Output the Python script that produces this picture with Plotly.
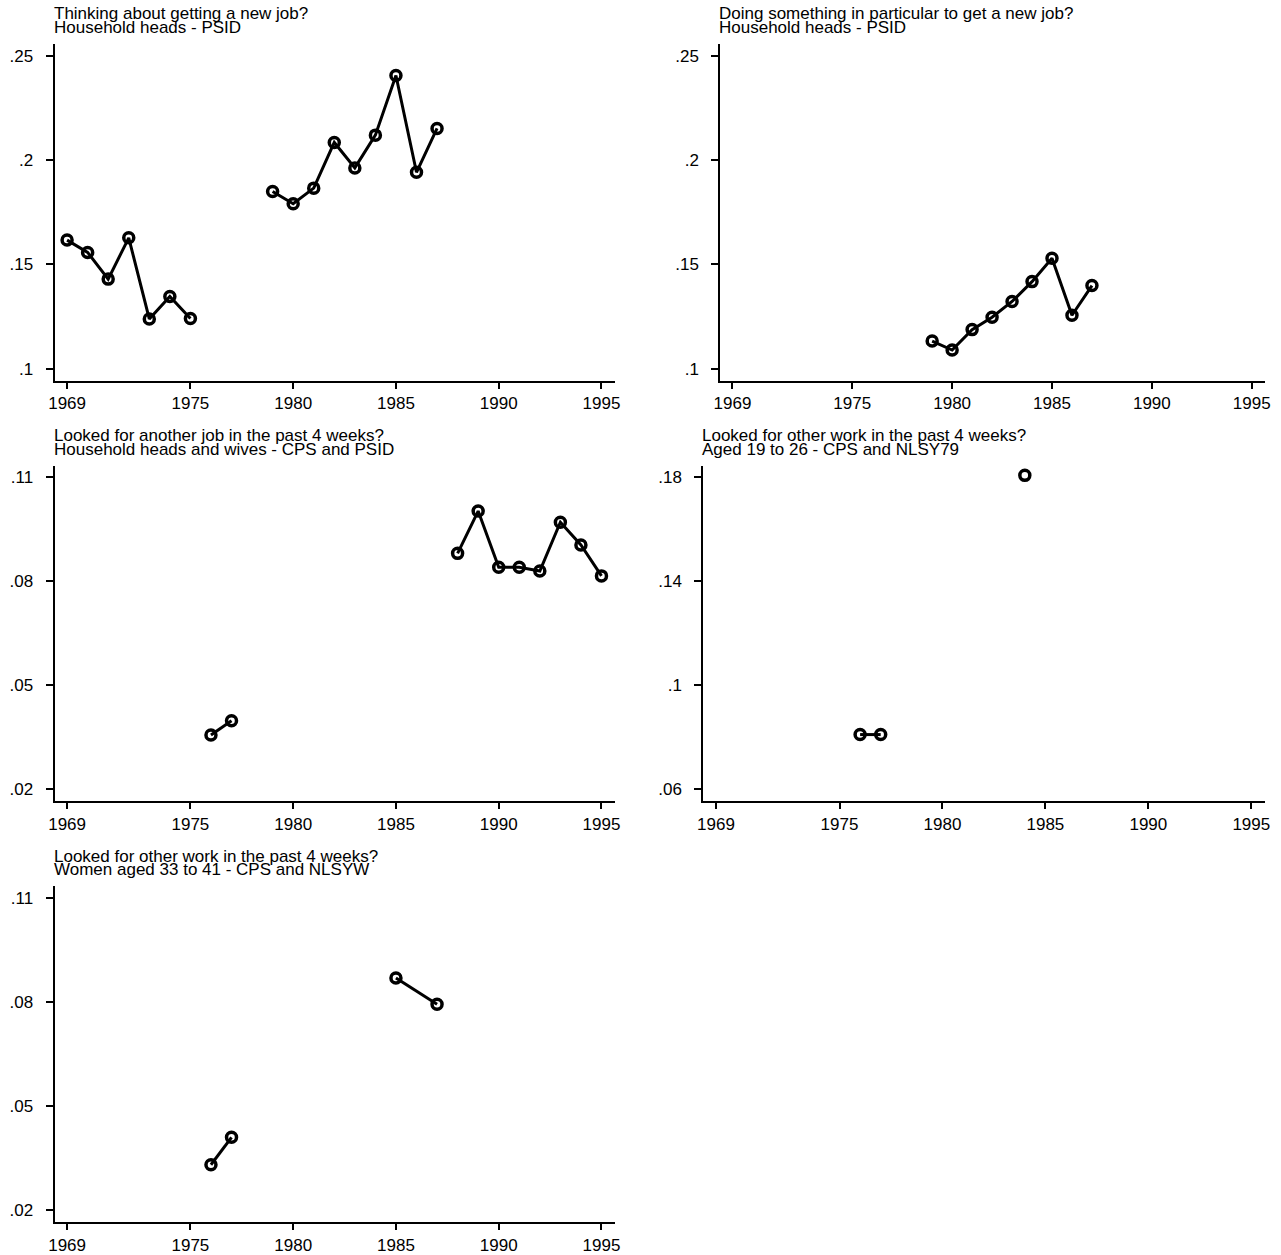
import plotly.graph_objects as go

# ---------------- data ----------------
years_think = [1969, 1970, 1971, 1972, 1973, 1974, 1975, None,
               1979, 1980, 1981, 1982, 1983, 1984, 1985, 1986, 1987]
share_think = [0.1616, 0.1557, 0.1429, 0.1627, 0.1238, 0.1346, 0.1240, None,
               0.1849, 0.1790, 0.1865, 0.2084, 0.1962, 0.2119, 0.2405, 0.1941, 0.2151]

years_doing = [1979, 1980, 1981, 1982, 1983, 1984, 1985, 1986, 1987]
share_doing = [0.1132, 0.1089, 0.1187, 0.1246, 0.1322, 0.1417, 0.1529, 0.1256, 0.1398]

years_heads_wives = [1976, 1977, None, 1988, 1989, 1990, 1991, 1992, 1993, 1994, 1995]
share_heads_wives = [0.0357, 0.0398, None, 0.0881, 0.1003, 0.0841, 0.0841, 0.0830,
                     0.0971, 0.0905, 0.0816]

years_young = [1976, 1977, None, 1984]
share_young = [0.0811, 0.0811, None, 0.1808]

years_women = [1976, 1977, None, 1985, 1987]
share_women = [0.0331, 0.0410, None, 0.0869, 0.0793]

x_tickvals = [1969, 1975, 1980, 1985, 1990, 1995]
x_ticktext = ["1969", "1975", "1980", "1985", "1990", "1995"]

yticks_a = [0.10, 0.15, 0.20, 0.25]
yticktext_a = [".1", ".15", ".2", ".25"]
yticks_b = [0.02, 0.05, 0.08, 0.11]
yticktext_b = [".02", ".05", ".08", ".11"]
yticks_c = [0.06, 0.10, 0.14, 0.18]
yticktext_c = [".06", ".1", ".14", ".18"]

titles = [
    ("Thinking about getting a new job?", "Household heads - PSID"),
    ("Doing something in particular to get a new job?", "Household heads - PSID"),
    ("Looked for another job in the past 4 weeks?", "Household heads and wives - CPS and PSID"),
    ("Looked for other work in the past 4 weeks?", "Aged 19 to 26 - CPS and NLSY79"),
    ("Looked for other work in the past 4 weeks?", "Women aged 33 to 41 - CPS and NLSYW"),
]
series = [
    (years_think, share_think, yticks_a, yticktext_a),
    (years_doing, share_doing, yticks_a, yticktext_a),
    (years_heads_wives, share_heads_wives, yticks_b, yticktext_b),
    (years_young, share_young, yticks_c, yticktext_c),
    (years_women, share_women, yticks_b, yticktext_b),
]

# ---------------- layout (pixels) ----------------
W, H = 1281, 1255
# (left, right, top, bottom) of each plot area in pixels
boxes = [
    (48, 614, 44, 383),
    (720, 1270, 44, 383),
    (48, 614, 468.5, 806.5),
    (703, 1270, 468.5, 806.5),
    (48, 614, 891.5, 1230),
]
pad_px = 12
x_range = [1968.39, 1995.67]

FONT = "Liberation Sans, Arial, sans-serif"
FS = 17

fig = go.Figure()
annotations = []
for i, ((xs, ys, tv, tt), (t1, t2), (l, r, t, b)) in enumerate(zip(series, titles, boxes)):
    n = i + 1
    xa = "x" if n == 1 else f"x{n}"
    ya = "y" if n == 1 else f"y{n}"
    fig.add_trace(go.Scatter(
        x=xs, y=ys, xaxis=xa, yaxis=ya, mode="lines+markers",
        line=dict(color="black", width=3),
        marker=dict(symbol="circle-open", size=10, color="black",
                    line=dict(color="black", width=3.5)),
        connectgaps=False, showlegend=False, hoverinfo="x+y",
    ))
    h_px = b - t
    span = tv[-1] - tv[0]
    inner = h_px - 2 * pad_px
    pad_val = span * pad_px / inner
    y_range = [tv[0] - pad_val, tv[-1] + pad_val]

    xdom = [l / W, r / W]
    ydom = [1 - b / H, 1 - t / H]
    fig.layout[("xaxis" if n == 1 else f"xaxis{n}")] = dict(
        domain=xdom, range=x_range, anchor=ya,
        tickmode="array", tickvals=x_tickvals, ticktext=x_ticktext,
        showgrid=False, zeroline=False, showline=True, linecolor="black", linewidth=2,
        ticks="outside", ticklen=6, tickwidth=2, tickcolor="black",
        tickfont=dict(family=FONT, size=FS, color="black"),
    )
    fig.layout[("yaxis" if n == 1 else f"yaxis{n}")] = dict(
        domain=ydom, range=y_range, anchor=xa,
        tickmode="array", tickvals=tv, ticktext=tt,
        showgrid=False, zeroline=False, showline=True, linecolor="black", linewidth=2,
        ticks="outside", ticklen=7, tickwidth=2, tickcolor="black",
        tickfont=dict(family=FONT, size=FS, color="black"),
        ticklabelstandoff=9,
    )
    for txt, base_off in ((t1, -24), (t2, -10)):
        center = t + base_off - 6
        annotations.append(dict(
            text=txt, xref="paper", yref="paper", x=l / W, y=1 - center / H,
            xanchor="left", yanchor="middle", showarrow=False, xshift=-3,
            font=dict(family=FONT, size=FS, color="black"),
        ))

fig.update_layout(
    width=W, height=H, autosize=False,
    margin=dict(l=0, r=0, t=0, b=0),
    paper_bgcolor="white", plot_bgcolor="white",
    annotations=annotations,
    font=dict(family=FONT, color="black"),
)

fig.write_html("out.html")
